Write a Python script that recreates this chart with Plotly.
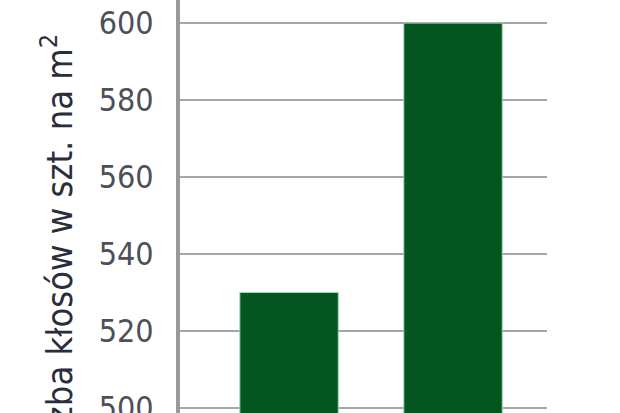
import plotly.graph_objects as go

categories = ["A", "B"]
values = [530, 600]
tick_vals = [500, 520, 540, 560, 580, 600]
tick_text = ["500", "520", "540", "560", "580", "600"]
y_title = "Liczba kłosów w szt. na m<sup>2</sup>"

fig = go.Figure()
fig.add_trace(go.Bar(
    x=[0, 1], y=values,
    width=0.6,
    marker=dict(color="#03561f", line=dict(width=1, color="#9fd6b0")),
))

fig.update_layout(
    width=620, height=413,
    margin=dict(l=180, r=73, t=0, b=0),
    paper_bgcolor="white", plot_bgcolor="white",
    showlegend=False,
    xaxis=dict(range=[-0.665, 1.573], showticklabels=False, showgrid=False,
               zeroline=False, showline=False, automargin=False),
    yaxis=dict(range=[498.7, 606], tickvals=tick_vals, ticktext=tick_text,
               showgrid=True, gridcolor="#a6a6a6", gridwidth=2, automargin=False,
               zeroline=False, showline=True, linecolor="#9a9a9a", linewidth=4,
               ticks="", ticklabelstandoff=16, ticklabeloverflow="allow",
               tickfont=dict(family="DejaVu Sans Condensed, DejaVu Sans", size=32, color="#4d5058")),
    annotations=[dict(
        text=y_title, textangle=-90, showarrow=False,
        xref="paper", yref="paper",
        x=(57 - 180) / 367, y=1 - 32 / 413,
        xanchor="center", yanchor="top",
        font=dict(family="DejaVu Sans Condensed, DejaVu Sans", size=36, color="#2a2d3a"),
    )],
)

fig.write_html("out.html", config={"displayModeBar": False},
               post_script="document.body.style.margin='0';document.body.style.overflow='hidden';")
